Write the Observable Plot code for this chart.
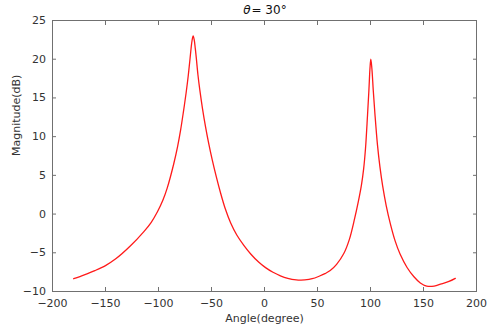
<!DOCTYPE html>
<html>
<head>
<meta charset="utf-8">
<script src="https://cdn.jsdelivr.net/npm/d3@7"></script>
<script src="https://cdn.jsdelivr.net/npm/@observablehq/plot@0.6"></script>
<style>
  html, body { margin: 0; padding: 0; background: #fff; }
</style>
</head>
<body>
<div id="chart"></div>
<script>
const angles = [-180, -170, -160, -150, -140, -126.4, -114, -107, -101, -96, -91.8, -85.6, -82, -79.2, -76.5, -74, -72, -70.3, -69.3, -68.3, -67.3, -66.3, -65.3, -64.3, -62.8, -61, -58.5, -55.7, -52.5, -49.3, -45.5, -41.5, -37, -32, -26, -19.5, -13, -5.3, 1, 8, 15, 22, 30, 34, 38, 45, 52, 57, 62, 68, 74.8, 80, 85, 88.5, 91.4, 93.5, 95.3, 97.2, 98.5, 99.5, 100.3, 101.3, 102.6, 104.2, 106.6, 108.9, 111.5, 114.8, 118.8, 123.3, 128, 134.5, 141, 147, 153, 160, 167, 174, 180];
const magnitudes = [-8.35, -7.85, -7.3, -6.65, -5.75, -4.1, -2.3, -1.1, 0.3, 1.75, 3.35, 6.5, 8.7, 10.8, 13.2, 15.6, 17.8, 20.0, 21.35, 22.45, 23.0, 22.5, 21.4, 20.1, 18.0, 16.0, 13.63, 11.33, 9.03, 7.0, 4.83, 2.75, 0.68, -1.12, -2.74, -4.04, -5.15, -6.23, -6.92, -7.52, -7.97, -8.29, -8.49, -8.52, -8.5, -8.35, -8.0, -7.7, -7.3, -6.5, -5.1, -3.3, -0.6, 1.6, 3.7, 5.8, 8.5, 12.8, 16.0, 18.8, 20.0, 18.8, 16.0, 12.9, 8.9, 6.1, 3.6, 1.1, -1.3, -3.5, -5.2, -6.9, -8.1, -8.9, -9.3, -9.3, -9.0, -8.7, -8.3];
const xTicks = [-200, -150, -100, -50, 0, 50, 100, 150, 200];
const yTicks = [-10, -5, 0, 5, 10, 15, 20, 25];
const titleSymbol = "θ";
const titleRest = "= 30°";
const xLabel = "Angle(degree)";
const yLabel = "Magnitude(dB)";

const data = angles.map((a, i) => ({angle: a, mag: magnitudes[i]}));

const axisColor = "#707070";
const textColor = "#333333";

const chart = Plot.plot({
  width: 494,
  height: 329,
  marginTop: 20,
  marginBottom: 38,
  marginLeft: 52,
  marginRight: 18,
  style: {fontFamily: "DejaVu Sans", fontSize: "11px", background: "#fff", color: textColor},
  x: {domain: [-200, 200]},
  y: {domain: [-10, 25]},
  marks: [
    Plot.line(data, {x: "angle", y: "mag", stroke: "#ff1a1a", strokeWidth: 1.3, curve: "catmull-rom"}),
    Plot.frame({stroke: axisColor}),
    Plot.axisX(xTicks, {anchor: "bottom", tickSize: -4, text: null, stroke: axisColor, label: null}),
    Plot.axisX(xTicks, {anchor: "top", tickSize: -4, text: null, stroke: axisColor, label: null}),
    Plot.axisY(yTicks, {anchor: "left", tickSize: -4, text: null, stroke: axisColor, label: null}),
    Plot.axisY(yTicks, {anchor: "right", tickSize: -4, text: null, stroke: axisColor, label: null}),
    Plot.axisX(xTicks, {anchor: "bottom", tickSize: 0, tickPadding: 7.5, label: null, fill: textColor, fontSize: 11}),
    Plot.axisY(yTicks, {anchor: "left", tickSize: 0, tickPadding: 6.5, label: null, fill: textColor, fontSize: 11}),
    Plot.text([xLabel], {frameAnchor: "bottom", dy: 27, lineAnchor: "middle", text: d => d, fill: textColor, fontSize: 11}),
    Plot.text([yLabel], {frameAnchor: "left", dx: -36, rotate: -90, lineAnchor: "middle", text: d => d, fill: textColor, fontSize: 11}),
    Plot.text([titleSymbol], {frameAnchor: "top", dx: -14, dy: -10.5, textAnchor: "end", lineAnchor: "middle", text: d => d, fill: "#111", fontSize: 12, fontStyle: "italic"}),
    Plot.text([titleRest], {frameAnchor: "top", dx: -13, dy: -10.5, textAnchor: "start", lineAnchor: "middle", text: d => d, fill: "#111", fontSize: 12})
  ]
});
document.getElementById("chart").appendChild(chart);
</script>
</body>
</html>
